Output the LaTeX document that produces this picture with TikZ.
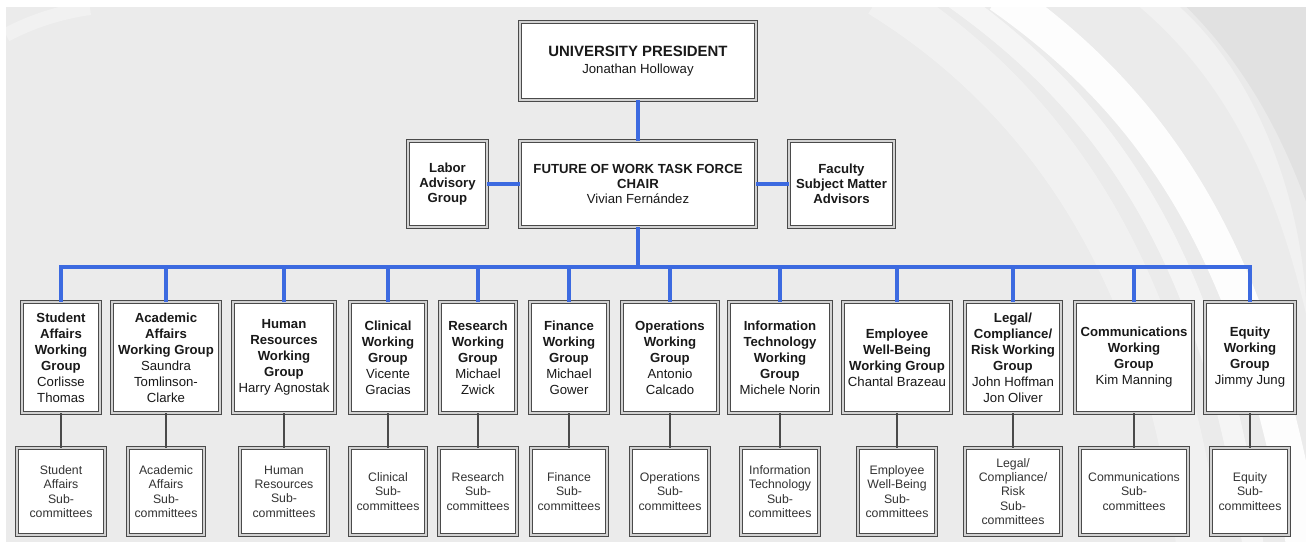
\documentclass[tikz,border=0pt]{standalone}
\usepackage{fontspec}
\setmainfont{Liberation Sans}
\usepackage{tikz}
\usetikzlibrary{positioning}
\definecolor{chartBlue}{HTML}{3C6AE0}
\definecolor{boxEdge}{HTML}{4A4A4A}
\definecolor{bgGray}{HTML}{EBEBEB}
\tikzstyle{box} = [rectangle, fill=white, draw=boxEdge, line width=0.6pt, double=gray!35, double distance=1.2pt, align=center, inner sep=1pt, text=black!90]
\tikzstyle{groupNode} = [box, minimum height=2.21cm, font=\fontsize{7.5}{9.1}\selectfont]
\tikzstyle{subNode} = [box, minimum height=1.73cm, font=\fontsize{7}{8.1}\selectfont, text=black!80]
\tikzstyle{headNode} = [box, minimum height=1.71cm, font=\fontsize{7.5}{8.6}\selectfont]
\tikzstyle{blueLine} = [chartBlue, line width=2.8pt]
\tikzstyle{thinLine} = [boxEdge, line width=0.8pt]
\begin{document}
\begin{tikzpicture}[x=0.02cm, y=-0.02cm]
\useasboundingbox (0,0) rectangle (1306,542);
% background
\fill[bgGray] (6,7) rectangle (1306,542);
\begin{scope}
\clip (6,7) rectangle (1306,542);
\fill[black, opacity=0.04] (1180,7) .. controls (1260,80) and (1300,200) .. (1306,300) -- (1306,7) -- cycle;
\draw[white, opacity=0.35, line width=25pt] (880,-5) .. controls (1050,100) and (1170,280) .. (1200,560);
\draw[white, opacity=0.55, line width=12pt] (950,-5) .. controls (1100,100) and (1215,250) .. (1255,560);
\draw[white, opacity=0.95, line width=20pt] (1000,-5) .. controls (1150,100) and (1260,250) .. (1306,560);
\draw[white, opacity=0.3, line width=18pt] (1150,-5) .. controls (1250,80) and (1300,200) .. (1330,350);
\draw[white, opacity=0.3, line width=8pt] (6,35) .. controls (30,22) and (60,12) .. (90,8);
\end{scope}
% top
\node (pres) [box, minimum width=4.73cm, minimum height=1.55cm, font=\fontsize{7.5}{9.5}\selectfont] at (638,61) {{\fontsize{8.5}{9.5}\selectfont\bfseries UNIVERSITY PRESIDENT}\\Jonathan Holloway};
\node (chair) [headNode, minimum width=4.71cm] at (638,184) {\textbf{FUTURE OF WORK TASK FORCE}\\\textbf{CHAIR}\\Vivian Fernández};
\node (labor) [headNode, minimum width=1.57cm] at (447.5,184) {\textbf{Labor}\\\textbf{Advisory}\\\textbf{Group}};
\node (faculty) [headNode, minimum width=2.09cm] at (841.5,184) {\textbf{Faculty}\\\textbf{Subject Matter}\\\textbf{Advisors}};
\coordinate (bus) at (638,267);
% working groups
\node (g1) [groupNode, minimum width=1.55cm] at (61,357.5) {\textbf{Student}\\\textbf{Affairs}\\\textbf{Working}\\\textbf{Group}\\Corlisse\\Thomas};
\node (g2) [groupNode, minimum width=2.15cm] at (166,357.5) {\textbf{Academic}\\\textbf{Affairs}\\\textbf{Working Group}\\Saundra\\Tomlinson-\\Clarke};
\node (g3) [groupNode, minimum width=2.05cm] at (284,357.5) {\textbf{Human}\\\textbf{Resources}\\\textbf{Working}\\\textbf{Group}\\Harry Agnostak};
\node (g4) [groupNode, minimum width=1.53cm] at (388,357.5) {\textbf{Clinical}\\\textbf{Working}\\\textbf{Group}\\Vicente\\Gracias};
\node (g5) [groupNode, minimum width=1.53cm] at (478,357.5) {\textbf{Research}\\\textbf{Working}\\\textbf{Group}\\Michael\\Zwick};
\node (g6) [groupNode, minimum width=1.55cm] at (569,357.5) {\textbf{Finance}\\\textbf{Working}\\\textbf{Group}\\Michael\\Gower};
\node (g7) [groupNode, minimum width=1.91cm] at (670,357.5) {\textbf{Operations}\\\textbf{Working}\\\textbf{Group}\\Antonio\\Calcado};
\node (g8) [groupNode, minimum width=2.03cm] at (780,357.5) {\textbf{Information}\\\textbf{Technology}\\\textbf{Working}\\\textbf{Group}\\Michele Norin};
\node (g9) [groupNode, minimum width=2.15cm] at (897,357.5) {\textbf{Employee}\\\textbf{Well-Being}\\\textbf{Working Group}\\Chantal Brazeau};
\node (g10) [groupNode, minimum width=1.93cm] at (1013,357.5) {\textbf{Legal/}\\\textbf{Compliance/}\\\textbf{Risk Working}\\\textbf{Group}\\John Hoffman\\Jon Oliver};
\node (g11) [groupNode, minimum width=2.37cm] at (1134,357.5) {\textbf{Communications}\\\textbf{Working}\\\textbf{Group}\\Kim Manning};
\node (g12) [groupNode, minimum width=1.79cm] at (1250,357.5) {\textbf{Equity}\\\textbf{Working}\\\textbf{Group}\\Jimmy Jung};
% sub-committees
\node (s1) [subNode, minimum width=1.75cm] at (61,491.5) {Student\\Affairs\\Sub-\\committees};
\node (s2) [subNode, minimum width=1.53cm] at (166,491.5) {Academic\\Affairs\\Sub-\\committees};
\node (s3) [subNode, minimum width=1.75cm] at (284,491.5) {Human\\Resources\\Sub-\\committees};
\node (s4) [subNode, minimum width=1.53cm] at (388,491.5) {Clinical\\Sub-\\committees};
\node (s5) [subNode, minimum width=1.55cm] at (478,491.5) {Research\\Sub-\\committees};
\node (s6) [subNode, minimum width=1.53cm] at (569,491.5) {Finance\\Sub-\\committees};
\node (s7) [subNode, minimum width=1.55cm] at (670,491.5) {Operations\\Sub-\\committees};
\node (s8) [subNode, minimum width=1.57cm] at (780,491.5) {Information\\Technology\\Sub-\\committees};
\node (s9) [subNode, minimum width=1.55cm] at (897,491.5) {Employee\\Well-Being\\Sub-\\committees};
\node (s10) [subNode, minimum width=1.93cm] at (1013,491.5) {Legal/\\Compliance/\\Risk\\Sub-\\committees};
\node (s11) [subNode, minimum width=2.15cm] at (1134,491.5) {Communications\\Sub-\\committees};
\node (s12) [subNode, minimum width=1.55cm] at (1250,491.5) {Equity\\Sub-\\committees};
% blue links
\draw [blueLine] (pres) -- (chair);
\draw [blueLine] (labor) -- (chair);
\draw [blueLine] (chair) -- (faculty);
\draw [blueLine] (chair) -- (bus);
\draw [blueLine] (bus) -| (g1);
\draw [blueLine] (bus) -| (g2);
\draw [blueLine] (bus) -| (g3);
\draw [blueLine] (bus) -| (g4);
\draw [blueLine] (bus) -| (g5);
\draw [blueLine] (bus) -| (g6);
\draw [blueLine] (bus) -| (g7);
\draw [blueLine] (bus) -| (g8);
\draw [blueLine] (bus) -| (g9);
\draw [blueLine] (bus) -| (g10);
\draw [blueLine] (bus) -| (g11);
\draw [blueLine] (bus) -| (g12);
% thin links
\draw [thinLine] (g1) -- (s1);
\draw [thinLine] (g2) -- (s2);
\draw [thinLine] (g3) -- (s3);
\draw [thinLine] (g4) -- (s4);
\draw [thinLine] (g5) -- (s5);
\draw [thinLine] (g6) -- (s6);
\draw [thinLine] (g7) -- (s7);
\draw [thinLine] (g8) -- (s8);
\draw [thinLine] (g9) -- (s9);
\draw [thinLine] (g10) -- (s10);
\draw [thinLine] (g11) -- (s11);
\draw [thinLine] (g12) -- (s12);
\end{tikzpicture}
\end{document}
